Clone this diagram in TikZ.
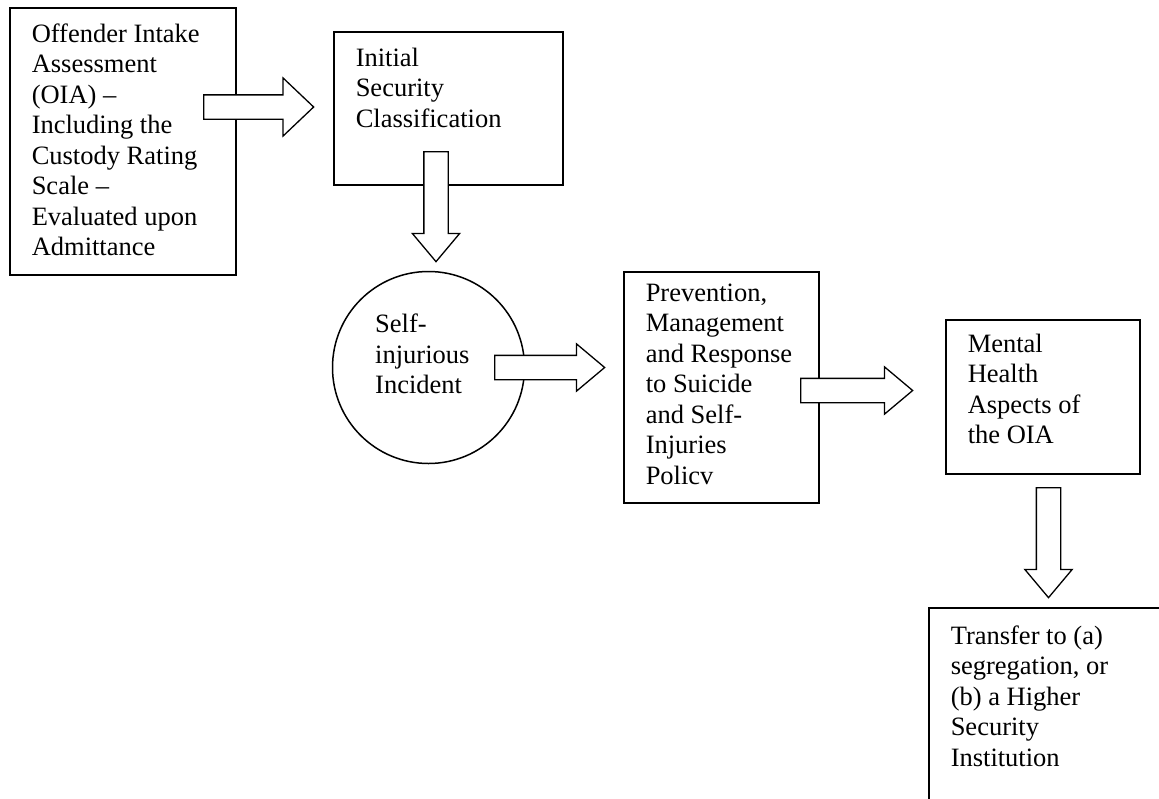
\documentclass[tikz,border=0pt]{standalone}
\usepackage{fontspec}
\setmainfont{Liberation Serif}
\usetikzlibrary{shapes.arrows}
\tikzset{
  stepbox/.style={draw,line width=1.5pt,fill=white,anchor=north west,inner xsep=22pt,inner ysep=#1},
  stepbox/.default=15pt,
  flowarrow/.style={single arrow,draw,fill=white,line width=1.3pt,inner sep=11.5pt,
    minimum height=110pt,single arrow head extend=11.5pt,single arrow tip angle=80,anchor=tail},
}
\newcommand{\boxtext}[3]{\parbox[t][#2][t]{#1}{\raggedright #3}}
\begin{document}
\begin{tikzpicture}[x=1pt,y=-1pt,every node/.style={font=\fontsize{26.5}{30.5}\selectfont}]
\path[use as bounding box,clip] (0,0) rectangle (1159,798);
% boxes
\node[stepbox=16pt] (intake) at (9,7) {\boxtext{182pt}{235pt}{Offender Intake\\ Assessment\\ (OIA) --\\ Including the\\ Custody Rating\\ Scale --\\ Evaluated upon\\ Admittance}};
\node[stepbox=16pt] (secclass) at (333,31) {\boxtext{185pt}{121pt}{Initial\\ Security\\ Classification}};
\node[draw,circle,line width=1.5pt,minimum size=192pt] (incident) at (428.5,367.5) {};
\node[anchor=north west,align=left,inner sep=0pt] (inctext) at (375,314) {Self-\\ injurious\\ Incident};
\node[stepbox=12pt] (policy) at (623,271) {\boxtext{151pt}{207pt}{Prevention,\\ Management\\ and Response\\ to Suicide\\ and Self-\\ Injuries\\ Policv}};
\node[stepbox=14pt] (mental) at (945,319) {\boxtext{150pt}{126pt}{Mental\\ Health\\ Aspects of\\ the OIA}};
\node[stepbox=18pt] (transfer) at (928,607) {\boxtext{216pt}{224pt}{Transfer to (a)\\ segregation, or\\ (b) a Higher\\ Security\\ Institution}};
% block arrows
\node[flowarrow,single arrow head extend=17pt,single arrow tip angle=87] (a1) at (203,107) {};
\node[flowarrow,shape border rotate=270] (a2) at (436,151) {};
\node[flowarrow] (a3) at (494,367.5) {};
\node[flowarrow,minimum height=112pt] (a4) at (800,390.5) {};
\node[flowarrow,shape border rotate=270] (a5) at (1048.5,487) {};
\end{tikzpicture}
\end{document}
